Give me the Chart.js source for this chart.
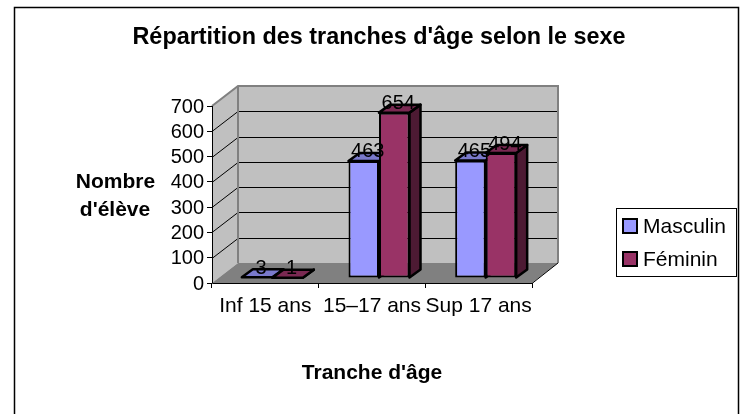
<!DOCTYPE html>
<html>
<head>
<meta charset="utf-8">
<style>
  html, body { margin: 0; padding: 0; background: #fff; }
  #wrap { width: 749px; height: 414px; }
</style>
<script src="https://cdn.jsdelivr.net/npm/chart.js@4"></script>
</head>
<body>
<div id="wrap"><canvas id="ageChart" width="749" height="414"></canvas></div>
<script>
const categories = ['Inf 15 ans', '15–17 ans', 'Sup 17 ans'];
const masculin = [3, 463, 465];
const feminin = [1, 654, 494];
const yTicks = [0, 100, 200, 300, 400, 500, 600, 700];

const FONT = '"Liberation Sans", Arial, sans-serif';
// depth of the fake 3D box and where the bars sit inside it
const wallDx = 26, wallDy = -20;
const barDx = 7, barDy = -5, barDepthX = 11, barDepthY = -8;
const shades = [['#7a7acc', '#4d4d80'], ['#7a2952', '#4d1a33']];

function poly(ctx, pts, fill, stroke, lw) {
    ctx.beginPath();
    pts.forEach((p, i) => i ? ctx.lineTo(p[0], p[1]) : ctx.moveTo(p[0], p[1]));
    ctx.closePath();
    if (fill) { ctx.fillStyle = fill; ctx.fill(); }
    if (stroke) { ctx.strokeStyle = stroke; ctx.lineWidth = lw; ctx.stroke(); }
}

// side and top faces first, then the library's own bar as the front face
function drawBars(chart, index) {
    const ctx = chart.ctx, meta = chart.getDatasetMeta(index);
    ctx.save();
    ctx.translate(barDx, barDy);
    ctx.lineJoin = 'round';
    meta.data.forEach(bar => {
        const l = bar.x - bar.width / 2, r = bar.x + bar.width / 2;
        const t = bar.y, b = bar.base;
        poly(ctx, [[r, t], [r + barDepthX, t + barDepthY], [r + barDepthX, b + barDepthY], [r, b]], shades[index][1], '#000', 2.5);
        poly(ctx, [[l, t], [l + barDepthX, t + barDepthY], [r + barDepthX, t + barDepthY], [r, t]], shades[index][0], '#000', 2.5);
    });
    meta.controller.draw();
    ctx.restore();
}

const box3d = {
    id: 'box3d',
    beforeDatasetsDraw(chart) {
        const ctx = chart.ctx, a = chart.chartArea, y = chart.scales.y;
        ctx.save();
        poly(ctx, [[a.left, a.top], [a.left + wallDx, a.top + wallDy], [a.left + wallDx, a.bottom + wallDy], [a.left, a.bottom]], '#c0c0c0');
        poly(ctx, [[a.left + wallDx, a.top + wallDy], [a.right + wallDx, a.top + wallDy], [a.right + wallDx, a.bottom + wallDy], [a.left + wallDx, a.bottom + wallDy]], '#c0c0c0');
        poly(ctx, [[a.left, a.bottom], [a.right, a.bottom], [a.right + wallDx, a.bottom + wallDy], [a.left + wallDx, a.bottom + wallDy]], '#808080');
        ctx.strokeStyle = '#000';
        ctx.lineWidth = 1;
        yTicks.forEach(t => {
            if (t === 0 || t === 700) return;
            const py = Math.round(y.getPixelForValue(t)) + 0.5;
            ctx.beginPath();
            ctx.moveTo(a.left, py);
            ctx.lineTo(a.left + wallDx, py + wallDy);
            ctx.lineTo(a.right + wallDx, py + wallDy);
            ctx.stroke();
        });
        // grey wall edges
        ctx.strokeStyle = '#808080';
        ctx.lineWidth = 2;
        ctx.beginPath();
        ctx.moveTo(a.left, a.top);
        ctx.lineTo(a.left + wallDx, a.top + wallDy);
        ctx.lineTo(a.right + wallDx, a.top + wallDy);
        ctx.lineTo(a.right + wallDx, a.bottom + wallDy);
        ctx.moveTo(a.left + wallDx, a.top + wallDy);
        ctx.lineTo(a.left + wallDx, a.bottom + wallDy);
        ctx.stroke();
        // front axes
        ctx.strokeStyle = '#000';
        ctx.lineWidth = 1;
        ctx.beginPath();
        ctx.moveTo(a.left + 0.5, a.top);
        ctx.lineTo(a.left + 0.5, a.bottom + 0.5);
        ctx.lineTo(a.right, a.bottom + 0.5);
        ctx.lineTo(a.right + wallDx, a.bottom + wallDy);
        ctx.stroke();
        ctx.restore();
    },
    // Masculin has to sit under Féminin, so the bars are painted here in dataset order
    beforeDatasetDraw() {
        return false;
    },
    afterDatasetsDraw(chart) {
        const ctx = chart.ctx;
        drawBars(chart, 0);
        drawBars(chart, 1);
        ctx.save();
        // value labels, over everything
        ctx.font = '20px ' + FONT;
        ctx.fillStyle = '#000';
        ctx.textAlign = 'center';
        ctx.textBaseline = 'middle';
        chart.data.datasets.forEach((ds, i) => {
            chart.getDatasetMeta(i).data.forEach((bar, j) => {
                ctx.fillText(String(ds.data[j]), bar.x + barDx + 4, bar.y + barDy - 9);
            });
        });
        // titles
        ctx.font = 'bold 23.4px ' + FONT;
        ctx.fillText("Répartition des tranches d'âge selon le sexe", 379, 38);
        ctx.font = 'bold 21px ' + FONT;
        ctx.fillText('Nombre', 115.5, 182);
        ctx.fillText("d'élève", 115, 210);
        ctx.fillText("Tranche d'âge", 372, 373);
        // legend
        ctx.lineWidth = 1;
        ctx.strokeStyle = '#000';
        ctx.strokeRect(616.5, 208.5, 120, 68);
        ctx.font = '21px ' + FONT;
        ctx.textAlign = 'left';
        chart.data.datasets.forEach((ds, i) => {
            const ly = 219 + i * 33;
            ctx.fillStyle = ds.backgroundColor;
            ctx.fillRect(623, ly, 14, 14);
            ctx.strokeStyle = '#000';
            ctx.lineWidth = 2;
            ctx.strokeRect(623, ly, 14, 14);
            ctx.fillStyle = '#000';
            ctx.fillText(ds.label, 643, ly + 8);
        });
        ctx.restore();
    }
};

// white page with the outer black frame
const frame = {
    id: 'frame',
    beforeDraw(chart) {
        const ctx = chart.ctx;
        ctx.save();
        ctx.fillStyle = '#fff';
        ctx.fillRect(0, 0, chart.width, chart.height);
        ctx.strokeStyle = '#000';
        ctx.lineWidth = 1.5;
        ctx.strokeRect(14.5, 7.5, 724, 420);
        ctx.restore();
    }
};

new Chart(document.getElementById('ageChart'), {
    type: 'bar',
    data: {
        labels: categories,
        datasets: [
            { label: 'Masculin', data: masculin, backgroundColor: '#9999ff', borderColor: '#000', borderWidth: 2, borderSkipped: false },
            { label: 'Féminin', data: feminin, backgroundColor: '#993366', borderColor: '#000', borderWidth: 2, borderSkipped: false }
        ]
    },
    options: {
        responsive: false,
        animation: false,
        categoryPercentage: 0.572,
        barPercentage: 1,
        layout: { padding: { left: 170, top: 106, right: 217, bottom: 91 } },
        scales: {
            x: {
                offset: true,
                grid: { drawOnChartArea: false, color: '#000', tickLength: 5 },
                border: { display: false },
                ticks: { color: '#000', font: { family: FONT, size: 21 }, padding: 6, maxRotation: 0, autoSkip: false },
                afterFit(s) { s.height = 40; }
            },
            y: {
                min: 0,
                max: 700,
                afterBuildTicks(s) { s.ticks = yTicks.map(v => ({ value: v })); },
                grid: { drawOnChartArea: false, color: '#000', tickLength: 5 },
                border: { display: false },
                ticks: { color: '#000', font: { family: FONT, size: 20 }, padding: 3, labelOffset: 1, autoSkip: false },
                afterFit(s) { s.width = 42; }
            }
        },
        plugins: {
            legend: { display: false },
            tooltip: { enabled: false },
            title: { display: false }
        }
    },
    plugins: [frame, box3d]
});
</script>
</body>
</html>
